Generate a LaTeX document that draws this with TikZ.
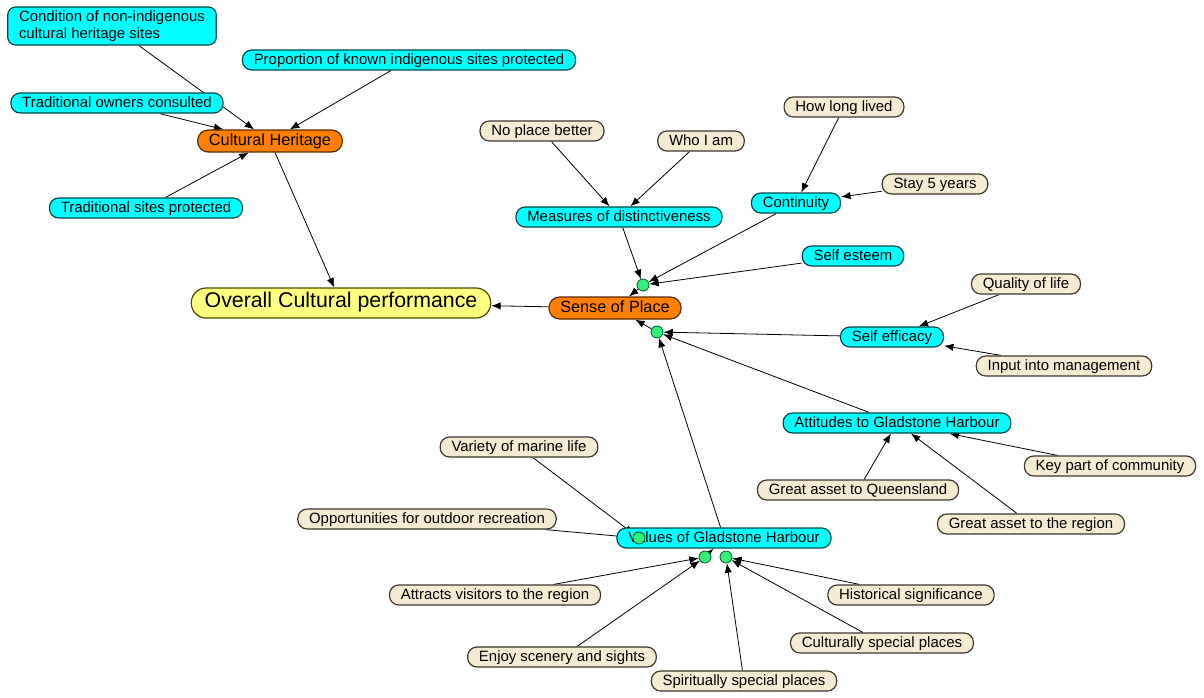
\documentclass[tikz,border=0pt]{standalone}
\usepackage{fontspec}
\setmainfont{Liberation Sans}
\usetikzlibrary{
  arrows.meta,
  backgrounds
}

\definecolor{measurefill}{HTML}{00FFFF}
\definecolor{measureline}{HTML}{004848}
\definecolor{itemfill}{HTML}{F5EBD2}
\definecolor{itemline}{HTML}{3E372C}
\definecolor{themefill}{HTML}{FF8000}
\definecolor{themeline}{HTML}{5A2B00}
\definecolor{overallfill}{HTML}{FFFF80}
\definecolor{overallline}{HTML}{4A4A00}
\definecolor{junctionfill}{HTML}{33EE77}
\definecolor{junctionline}{HTML}{005A28}

\begin{document}
\begin{tikzpicture}[
  x=0.75pt, y=-0.75pt,
  item/.style={draw=itemline, fill=itemfill, line width=0.9pt, rounded corners=7pt, minimum height=15pt, inner xsep=8.5pt, inner ysep=1pt, text height=0.72em, text depth=0pt, font=\fontsize{11.2}{12.75}\selectfont},
  measure/.style={item, draw=measureline, fill=measurefill},
  theme/.style={item, draw=themeline, fill=themefill, minimum height=16.5pt, rounded corners=8pt, font=\fontsize{12.2}{14}\selectfont},
  overall/.style={item, draw=overallline, fill=overallfill, minimum height=22.5pt, rounded corners=11pt, inner xsep=10pt, font=\fontsize{16}{19}\selectfont},
  junction/.style={circle, draw=junctionline, fill=junctionfill, line width=0.6pt, minimum size=9pt, inner sep=0pt},
  arrow/.style={-{Latex[length=7pt,width=5.5pt]}, line width=0.6pt}
]
\useasboundingbox (0,0) rectangle (1204,697);

% Cultural heritage
\node[measure, align=left, text height=, text depth=, rounded corners=6pt, minimum height=28.5pt] (condition) at (112,26) {Condition of non-indigenous\\cultural heritage sites};
\node[measure] (proportion) at (409,60) {Proportion of known indigenous sites protected};
\node[measure] (owners) at (117,103) {Traditional owners consulted};
\node[theme] (heritage) at (270,141) {Cultural Heritage};
\node[measure] (sites) at (146,208) {Traditional sites protected};

% Overall and sense of place
\node[overall] (overall) at (341,303) {Overall Cultural performance};
\node[theme] (place) at (615,308) {Sense of Place};

% Sense of place measures
\node[item] (better) at (542,131) {No place better};
\node[item] (whoiam) at (701,141) {Who I am};
\node[measure] (distinct) at (619,217) {Measures of distinctiveness};
\node[item] (howlong) at (844,107) {How long lived};
\node[item] (stay) at (935,184) {Stay 5 years};
\node[measure] (continuity) at (796,203) {Continuity};
\node[measure] (esteem) at (853,256) {Self esteem};
\node[item] (quality) at (1026,284) {Quality of life};
\node[measure] (efficacy) at (892,337) {Self efficacy};
\node[item] (input) at (1064,366) {Input into management};
\node[measure] (attitudes) at (897,423) {Attitudes to Gladstone Harbour};
\node[item] (keypart) at (1110,466) {Key part of community};
\node[item] (assetqld) at (858,490) {Great asset to Queensland};
\node[item] (assetreg) at (1031,524) {Great asset to the region};

% Harbour values
\node[item] (marine) at (519,447) {Variety of marine life};
\node[item] (outdoor) at (427,519) {Opportunities for outdoor recreation};
\node[measure] (values) at (724,538) {Values of Gladstone Harbour};
\node[item] (visitors) at (495,595) {Attracts visitors to the region};
\node[item] (history) at (911,595) {Historical significance};
\node[item] (cultural) at (882,643) {Culturally special places};
\node[item] (scenery) at (562,657) {Enjoy scenery and sights};
\node[item] (spiritual) at (744,681) {Spiritually special places};

% Junctions
\node[junction] (j1) at (643,285) {};
\node[junction] (j2) at (657,332) {};
\node[junction] (j3) at (639,538) {};
\node[junction] (j4) at (705,557) {};
\node[junction] (j5) at (726,557) {};

% Arrows
\begin{scope}[on background layer]
\draw[arrow] (condition) -- (heritage);
\draw[arrow] (proportion) -- (heritage);
\draw[arrow] (owners) -- (heritage);
\draw[arrow] (sites) -- (heritage);
\draw[arrow] (heritage) -- (overall);
\draw[arrow] (place) -- (overall);

\draw[arrow] (better) -- (distinct);
\draw[arrow] (whoiam) -- (distinct);
\draw[arrow] (howlong) -- (continuity);
\draw[arrow] (stay) -- (continuity);
\draw[arrow] (distinct) -- (j1);
\draw[arrow] (continuity) -- (j1);
\draw[arrow] (esteem) -- (j1);
\draw[arrow] (j1) -- (place);

\draw[arrow] (quality) -- (efficacy);
\draw[arrow] (input) -- (efficacy);
\draw[arrow] (keypart) -- (attitudes);
\draw[arrow] (assetqld) -- (attitudes);
\draw[arrow] (assetreg) -- (attitudes);
\draw[arrow] (efficacy) -- (j2);
\draw[arrow] (attitudes) -- (j2);
\draw[arrow] (values) -- (j2);
\draw[arrow] (j2) -- (place);

\draw[arrow] (marine) -- (j3);
\draw[arrow] (outdoor) -- (j3);
\draw[arrow] (visitors) -- (j4);
\draw[arrow] (scenery) -- (j4);
\draw[arrow] (j4) -- (values);
\draw[arrow] (spiritual) -- (j5);
\draw[arrow] (history) -- (j5);
\draw[arrow] (cultural) -- (j5);
\end{scope}

\end{tikzpicture}
\end{document}
